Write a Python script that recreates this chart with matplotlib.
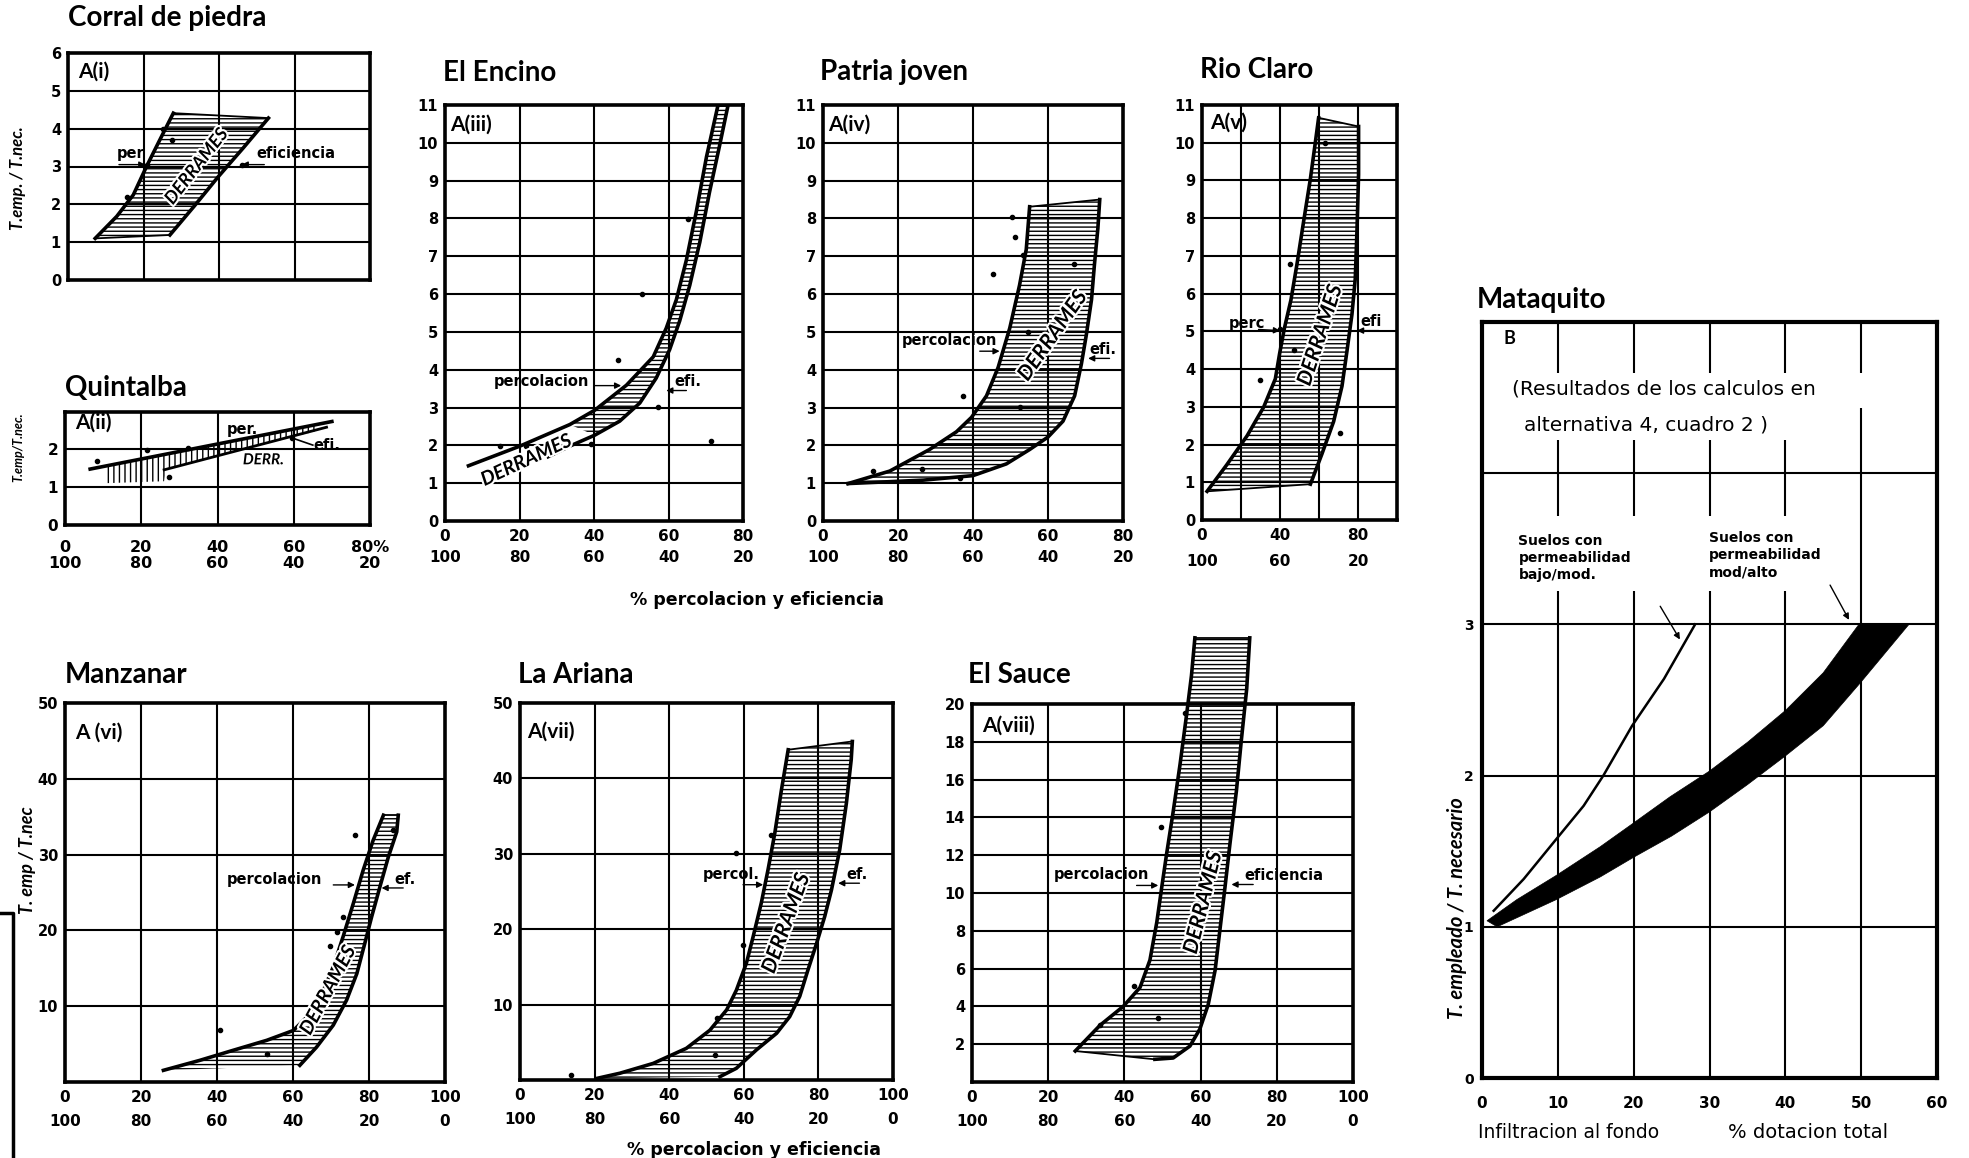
import numpy as np
import matplotlib.pyplot as plt
import matplotlib.patheffects as pe
from matplotlib.lines import Line2D

# figure size in pixels (dpi 100)
W, H = 1969, 1158

plt.rcParams['font.family'] = ['Lato', 'DejaVu Sans']
plt.rcParams['font.weight'] = 'bold'
plt.rcParams['hatch.color'] = 'black'
plt.rcParams['hatch.linewidth'] = 1.0

# ---------------- data ----------------
# A(i) Corral de piedra
cp_perc_x = [7.2, 12.9, 17.3, 20.8, 23.9, 27.9]
cp_perc_y = [1.10, 1.68, 2.25, 3.0, 3.62, 4.41]
cp_efi_x = [27.0, 33.5, 39.8, 46.5, 53.1]
cp_efi_y = [1.19, 1.96, 2.73, 3.5, 4.28]
cp_pts_x = [15.5, 25.2, 27.5, 21.0, 46.0]
cp_pts_y = [2.2, 3.98, 3.7, 3.05, 3.05]

# A(ii) Quintalba
q_per_x = [6.6, 70.0]
q_per_y = [1.47, 2.72]
q_efi_x = [26.0, 68.6]
q_efi_y = [1.45, 2.57]
q_hatch_x = [11, 26, 26.5, 66]
q_hatch_low = [1.1, 1.15, 1.47, 2.47]
q_hatch_up = [1.56, 1.85, 1.86, 2.64]
q_pts_x = [8.3, 21.6, 27.3, 32.3, 59.6]
q_pts_y = [1.69, 1.97, 1.27, 2.02, 2.28]

# A(iii) El Encino
en_perc_x = [6.3, 20.1, 33.5, 40.2, 48.7, 55.9, 59.4, 62.1, 64.8, 67.5, 70.2, 73.3]
en_perc_y = [1.46, 1.98, 2.55, 2.93, 3.59, 4.34, 5.1, 5.85, 6.9, 8.2, 9.63, 11.0]
en_efi_x = [27.7, 33.5, 40.2, 46.9, 52.3, 56.7, 60.3, 63.0, 65.7, 68.4, 71.0, 73.7, 76.0]
en_efi_y = [1.70, 1.98, 2.27, 2.64, 3.12, 3.78, 4.53, 5.29, 6.23, 7.37, 8.69, 9.92, 11.0]
en_pts_x = [14.7, 21.7, 39.3, 46.5, 53.0, 65.2, 57.2, 71.5]
en_pts_y = [1.98, 1.98, 2.03, 4.25, 6.0, 7.98, 3.02, 2.12]

# A(iv) Patria joven
pj_perc_x = [6.7, 17.8, 28.4, 35.6, 39.6, 43.6, 46.7, 49.8, 52.4, 54.2, 55.1]
pj_perc_y = [0.99, 1.32, 1.89, 2.36, 2.74, 3.31, 4.06, 5.1, 6.23, 7.18, 8.31]
pj_efi_x = [6.7, 26.7, 40.0, 48.9, 55.1, 60.0, 64.0, 67.1, 68.9, 70.2, 71.6, 72.4, 73.3, 73.8]
pj_efi_y = [0.99, 1.08, 1.2, 1.51, 1.89, 2.22, 2.64, 3.31, 4.15, 4.91, 5.85, 6.8, 7.74, 8.5]
pj_pts_x = [13.3, 26.5, 37.2, 45.2, 50.5, 51.2, 53.3, 66.8, 54.7, 52.4, 36.6]
pj_pts_y = [1.32, 1.37, 3.31, 6.52, 8.03, 7.51, 7.03, 6.8, 5.0, 3.02, 1.13]

# A(v) Rio Claro
rc_perc_x = [2.6, 12.8, 23.1, 31.6, 37.6, 39.8, 42.2, 45.6, 48.7, 52.1, 55.6, 58.1, 59.8]
rc_perc_y = [0.76, 1.47, 2.23, 2.99, 3.74, 4.41, 5.07, 5.83, 6.78, 7.91, 9.05, 10.0, 10.66]
rc_efi_x = [55.6, 61.5, 67.5, 71.8, 74.4, 76.9, 78.6, 79.5, 80.3, 80.3]
rc_efi_y = [0.95, 1.75, 2.61, 3.55, 4.5, 5.45, 6.4, 7.72, 9.15, 10.43]
rc_pts_x = [45.3, 29.9, 47.0, 40.2, 71.0, 63.2]
rc_pts_y = [6.78, 3.7, 4.5, 5.07, 2.3, 9.98]

# A(vi) Manzanar
mz_perc_x = [25.9, 35.5, 44.3, 53.1, 60.1, 64.5, 68.0, 70.6, 73.2, 75.9, 78.5, 81.1, 83.8]
mz_perc_y = [1.54, 2.86, 4.19, 5.5, 6.8, 9.0, 12.1, 15.2, 19.2, 23.6, 28.0, 31.9, 35.2]
mz_efi_x = [61.8, 66.2, 70.6, 74.1, 76.8, 78.9, 80.7, 82.9, 85.1, 87.3, 87.7]
mz_efi_y = [2.2, 4.6, 7.5, 10.8, 14.3, 18.3, 21.8, 25.8, 29.7, 33.0, 35.2]
mz_pts_x = [40.8, 53.1, 69.7, 73.2, 76.3, 71.5, 86.4]
mz_pts_y = [6.8, 3.7, 18.0, 21.8, 32.6, 19.8, 33.3]

# A(vii) La Ariana
la_perc_x = [20.5, 26.8, 35.7, 44.6, 50.9, 55.4, 58.0, 60.7, 62.5, 64.7, 66.5, 68.3, 70.1, 71.9]
la_perc_y = [0.2, 0.9, 2.2, 4.2, 6.6, 9.3, 11.9, 15.5, 19.0, 23.5, 27.9, 32.7, 38.5, 43.8]
la_efi_x = [53.6, 58.0, 63.4, 68.8, 72.3, 75.0, 77.2, 79.5, 81.7, 83.5, 85.7, 87.5, 88.8, 89.1]
la_efi_y = [0.44, 1.55, 4.0, 6.2, 8.4, 11.1, 14.6, 18.1, 21.7, 25.2, 30.5, 36.7, 42.5, 44.9]
la_pts_x = [13.8, 58.0, 67.4, 59.8, 52.7, 52.2]
la_pts_y = [0.66, 30.1, 32.5, 17.9, 8.2, 3.3]

# A(viii) El Sauce
es_perc_x = [27.1, 33.6, 39.7, 44.1, 46.7, 48.5, 49.8, 51.1, 52.8, 54.6, 56.3, 57.6, 58.5]
es_perc_y = [1.64, 3.0, 4.0, 5.0, 6.45, 8.45, 10.3, 12.1, 14.3, 16.8, 19.4, 21.5, 23.5]
es_efi_x = [48.0, 52.8, 57.2, 59.8, 62.0, 63.8, 65.1, 66.4, 67.7, 69.4, 70.7, 72.1, 72.9]
es_efi_y = [1.2, 1.27, 1.9, 2.8, 4.1, 5.9, 8.1, 10.3, 12.6, 15.4, 18.1, 20.8, 23.5]
es_pts_x = [55.9, 49.5, 42.5, 33.6, 48.9]
es_pts_y = [19.5, 13.5, 5.1, 3.0, 3.4]

# B Mataquito
mt_low_x = [1.54, 5.5, 9.8, 13.4, 16.0, 19.8, 24.0, 28.1]
mt_low_y = [1.106, 1.316, 1.58, 1.8, 2.0, 2.33, 2.64, 3.0]
mt_up_x = [0.66, 4.6, 9.8, 15.6, 19.8, 24.8, 30.0, 35.0, 40.0, 45.0, 49.7]
mt_up_y = [1.04, 1.18, 1.34, 1.53, 1.68, 1.86, 2.03, 2.22, 2.43, 2.68, 3.0]
mt_dn_x = [2.0, 9.8, 15.6, 20.0, 25.0, 30.0, 35.0, 40.0, 45.0, 50.0, 56.3]
mt_dn_y = [1.0, 1.18, 1.33, 1.46, 1.6, 1.76, 1.94, 2.13, 2.33, 2.62, 3.0]

# tick labels
pct_top = [0, 20, 40, 60, 80]
pct_bot = [100, 80, 60, 40, 20]
pct_top_full = [0, 20, 40, 60, 80, 100]
pct_bot_full = [100, 80, 60, 40, 20, 0]

NUMFONT = ['DejaVu Sans']
SMALLFONT = ['DejaVu Sans']

# ---------------- helpers ----------------
fig = plt.figure(figsize=(W / 100, H / 100), dpi=100)


def add_ax(left, right, top, bottom):
    # axes box given in figure pixels
    return fig.add_axes([left / W, 1 - bottom / H, (right - left) / W, (bottom - top) / H])


def ftext(x, y, s, **kw):
    kw.setdefault('va', 'center')
    kw.setdefault('ha', 'left')
    fig.text(x / W, 1 - y / H, s, **kw)


def frame(ax, xlim, ylim, xgrid, ygrid, yticks, ylabels, xt=None, xl=None,
          fs=11, lsp=1.6, xpad=6):
    ax.set_xlim(xlim)
    ax.set_ylim(ylim)
    for v in xgrid:
        ax.axvline(v, color='k', lw=1.5, zorder=1)
    for v in ygrid:
        ax.axhline(v, color='k', lw=1.5, zorder=1)
    ax.set_yticks(yticks, ylabels, fontsize=fs - 0.5, fontweight='bold', fontfamily=NUMFONT)
    if xt is None:
        ax.set_xticks([])
    else:
        ax.set_xticks(xt, xl, fontsize=fs, fontweight='bold', linespacing=lsp, fontfamily=NUMFONT)
    ax.tick_params(length=0)
    ax.tick_params(axis='x', pad=xpad)
    ax.tick_params(axis='y', pad=5)
    for s in ax.spines.values():
        s.set_linewidth(2.6)
        s.set_zorder(4)


def band(ax, xl, yl, xr, yr, hatch='----', ymin_l=-1, ymin_r=-1, clip=True,
         cap_bot=False, cap_top=False):
    xl, yl, xr, yr = map(np.asarray, (xl, yl, xr, yr))
    ml = yl >= ymin_l
    mr = yr >= ymin_r
    ax.fill(np.r_[xl[ml], xr[mr][::-1]], np.r_[yl[ml], yr[mr][::-1]],
            facecolor='none', edgecolor='k', hatch=hatch, lw=0, zorder=2, clip_on=clip)
    ax.plot(xl, yl, color='k', lw=2.6, zorder=3, clip_on=clip)
    ax.plot(xr, yr, color='k', lw=2.6, zorder=3, clip_on=clip)
    if cap_bot:
        ax.plot([xl[0], xr[0]], [yl[0], yr[0]], color='k', lw=1.3, zorder=3, clip_on=clip)
    if cap_top:
        ax.plot([xl[-1], xr[-1]], [yl[-1], yr[-1]], color='k', lw=1.3, zorder=3, clip_on=clip)


def dots(ax, x, y):
    ax.plot(x, y, 'o', color='k', ms=3, ls='none', zorder=5)


def note(ax, s, x, y, fs=10.5):
    ax.text(x, y, s, fontsize=fs, fontweight='bold', ha='left', va='center', zorder=6,
            fontfamily=SMALLFONT)


def arrow(ax, tail, head):
    ax.annotate('', xy=head, xytext=tail, zorder=6,
                arrowprops=dict(arrowstyle='-|>', color='k', lw=1.0, mutation_scale=9,
                                shrinkA=0, shrinkB=0))


def derr(ax, x, y, rot, s='DERRAMES', fs=13):
    ax.text(x, y, s, fontsize=fs, fontweight='bold', style='italic', rotation=rot,
            ha='center', va='center', rotation_mode='anchor', zorder=6,
            path_effects=[pe.withStroke(linewidth=3, foreground='white')])


def two_rows(a, b):
    return [f"{p}\n{q}" for p, q in zip(a, b)]


# ---------------- A(i) ----------------
ax = add_ax(68, 370, 53, 280)
frame(ax, (0, 80), (0, 6), [20, 40, 60], [1, 2, 3, 4, 5], range(7), [str(i) for i in range(7)])
band(ax, cp_perc_x, cp_perc_y, cp_efi_x, cp_efi_y, cap_bot=True, cap_top=True)
dots(ax, cp_pts_x, cp_pts_y)
note(ax, 'per', 12.9, 3.35)
arrow(ax, (13.5, 3.05), (20.5, 3.05))
note(ax, 'eficiencia', 50, 3.35)
arrow(ax, (52, 3.05), (46, 3.05))
derr(ax, 34, 3.0, 52, fs=13)

# ---------------- A(ii) ----------------
ax = add_ax(65, 370, 412, 525)
frame(ax, (0, 80), (0, 2.97), [20, 40, 60], [1, 2], [0, 1, 2], ['0', '1', '2'],
      xt=pct_top, xl=['0\n100', '20\n80', '40\n60', '60\n40', '80%\n20'], fs=11.5, lsp=1.1, xpad=11)
ax.fill_between(q_hatch_x, q_hatch_low, q_hatch_up, facecolor='none', edgecolor='k',
                hatch='|||', lw=0, zorder=2)
ax.plot(q_per_x, q_per_y, color='k', lw=2.6, zorder=3)
ax.plot(q_efi_x, q_efi_y, color='k', lw=2.0, zorder=3)
dots(ax, q_pts_x, q_pts_y)
note(ax, 'per.', 42.4, 2.5)
note(ax, 'efi.', 65.2, 2.1)
ax.plot([59.8, 65], [2.28, 2.1], color='k', lw=1.2, zorder=5)
derr(ax, 52, 1.7, 0, s='DERR.', fs=11)

# ---------------- A(iii) ----------------
y11 = [str(i) for i in range(12)]
ax = add_ax(445, 743, 105, 521)
frame(ax, (0, 80), (0, 11), [20, 40, 60], range(1, 11), range(12), y11,
      xt=pct_top, xl=two_rows(pct_top, pct_bot), lsp=1.45, xpad=6)
band(ax, en_perc_x, en_perc_y, en_efi_x, en_efi_y, ymin_l=2.5, ymin_r=2.2)
dots(ax, en_pts_x, en_pts_y)
note(ax, 'percolacion', 13, 3.68)
arrow(ax, (40.2, 3.58), (47.3, 3.58))
note(ax, 'efi.', 61.7, 3.68)
arrow(ax, (64.8, 3.45), (59.4, 3.45))
derr(ax, 21.9, 1.6, 25, fs=14)

# ---------------- A(iv) ----------------
ax = add_ax(823, 1123, 105, 521)
frame(ax, (0, 80), (0, 11), [20, 40, 60], range(1, 11), range(12), y11,
      xt=pct_top, xl=two_rows(pct_top, pct_bot), lsp=1.45, xpad=6)
band(ax, pj_perc_x, pj_perc_y, pj_efi_x, pj_efi_y, cap_top=True)
dots(ax, pj_pts_x, pj_pts_y)
note(ax, 'percolacion', 20.9, 4.77)
arrow(ax, (41.8, 4.49), (47.1, 4.49))
note(ax, 'efi.', 71.1, 4.53)
arrow(ax, (76.4, 4.3), (70.7, 4.3))
derr(ax, 61.3, 4.9, 55, fs=15)

# ---------------- A(v) ----------------
ax = add_ax(1202, 1397, 105, 520)
frame(ax, (0, 100), (0, 11), [20, 40, 60, 80], range(1, 11), range(12), y11,
      xt=[0, 40, 80], xl=two_rows([0, 40, 80], [100, 60, 20]), lsp=1.9, xpad=6)
band(ax, rc_perc_x, rc_perc_y, rc_efi_x, rc_efi_y, cap_bot=True, cap_top=True)
dots(ax, rc_pts_x, rc_pts_y)
note(ax, 'perc', 13.7, 5.21)
arrow(ax, (29, 5.05), (40, 5.02))
note(ax, 'efi', 81.2, 5.26)
arrow(ax, (90.6, 5.02), (79.5, 5.02))
derr(ax, 60.7, 4.9, 72, fs=15)

# ---------------- A(vi) ----------------
ax = add_ax(65, 445, 703, 1082)
frame(ax, (0, 100), (0, 50), [20, 40, 60, 80], [10, 20, 30, 40], [10, 20, 30, 40, 50],
      ['10', '20', '30', '40', '50'], xt=pct_top_full, xl=two_rows(pct_top_full, pct_bot_full),
      lsp=1.75, xpad=6)
band(ax, mz_perc_x, mz_perc_y, mz_efi_x, mz_efi_y, cap_top=True)
dots(ax, mz_pts_x, mz_pts_y)
note(ax, 'percolacion', 42.5, 26.7)
arrow(ax, (70.6, 26), (76.3, 26))
note(ax, 'ef.', 86.8, 26.7)
arrow(ax, (89, 25.6), (83.3, 25.6))
derr(ax, 69.3, 12.1, 62, fs=14)

# ---------------- A(vii) ----------------
ax = add_ax(520, 893, 703, 1080)
frame(ax, (0, 100), (0, 50), [20, 40, 60, 80], [10, 20, 30, 40], [10, 20, 30, 40, 50],
      ['10', '20', '30', '40', '50'], xt=pct_top_full, xl=two_rows(pct_top_full, pct_bot_full),
      lsp=1.75, xpad=6)
band(ax, la_perc_x, la_perc_y, la_efi_x, la_efi_y, cap_top=True)
dots(ax, la_pts_x, la_pts_y)
note(ax, 'percol.', 49.1, 27.2)
arrow(ax, (59.8, 25.9), (65.2, 25.9))
note(ax, 'ef.', 87.5, 27.2)
arrow(ax, (91, 26.1), (85.3, 26.1))
derr(ax, 71.4, 20.8, 70, fs=15)

# ---------------- A(viii) ----------------
ax = add_ax(972, 1353, 704, 1082)
frame(ax, (0, 100), (0, 20), [20, 40, 60, 80], range(2, 20, 2), range(2, 21, 2),
      [str(i) for i in range(2, 21, 2)], xt=pct_top_full, xl=two_rows(pct_top_full, pct_bot_full),
      lsp=1.75, xpad=6)
band(ax, es_perc_x, es_perc_y, es_efi_x, es_efi_y, clip=False, cap_bot=True, cap_top=True)
dots(ax, es_pts_x, es_pts_y)
note(ax, 'percolacion', 21.4, 11.0)
arrow(ax, (43.2, 10.4), (48.9, 10.4))
note(ax, 'eficiencia', 71.6, 10.9)
arrow(ax, (73.8, 10.45), (68.1, 10.45))
derr(ax, 60.7, 9.5, 76, fs=15)

# ---------------- B Mataquito ----------------
ax = add_ax(1482, 1937, 322, 1078)
ax.set_xlim(0, 60)
ax.set_ylim(0, 5)
for v in [1, 2, 3, 4]:
    ax.axhline(v, color='k', lw=1.5, zorder=1)
for v in [10, 20, 30, 40]:
    ax.vlines([v, v, v], [0, 3.72, 4.66], [3.22, 4.22, 5], color='k', lw=1.5, zorder=1)
ax.vlines([50, 50], [0, 4.66], [4.43, 5], color='k', lw=1.5, zorder=1)
ax.set_xticks(range(0, 61, 10), [str(i) for i in range(0, 61, 10)], fontsize=11,
              fontfamily=NUMFONT)
ax.set_yticks([0, 1, 2, 3], ['0', '1', '2', '3'], fontsize=10, fontfamily=NUMFONT)
ax.tick_params(length=0)
ax.tick_params(axis='x', pad=13)
ax.tick_params(axis='y', pad=6)
for s in ax.spines.values():
    s.set_linewidth(3)
ax.plot(mt_low_x, mt_low_y, color='k', lw=1.8, zorder=3)
ax.fill(np.r_[mt_up_x, mt_dn_x[::-1]], np.r_[mt_up_y, mt_dn_y[::-1]], color='k', lw=0.5, zorder=3)
arrow(ax, (23.5, 3.12), (26.1, 2.9))
arrow(ax, (45.9, 3.26), (48.4, 3.03))
ax.text(2.9, 4.89, 'B', fontsize=13, va='center')
ax.text(3.96, 4.56, '(Resultados de los calculos en', fontsize=14.5, va='center',
        fontfamily=SMALLFONT, fontweight='normal')
ax.text(5.5, 4.32, 'alternativa 4, cuadro 2 )', fontsize=14.5, va='center',
        fontfamily=SMALLFONT, fontweight='normal')
ax.text(4.8, 3.6, 'Suelos con\npermeabilidad\nbajo/mod.', fontsize=10, va='top',
        fontfamily=SMALLFONT, linespacing=1.3)
ax.text(29.9, 3.62, 'Suelos con\npermeabilidad\nmod/alto', fontsize=10, va='top',
        fontfamily=SMALLFONT, linespacing=1.3)

# ---------------- titles and labels ----------------
for x, y, s in [(68, 18, 'Corral de piedra'), (65, 388, 'Quintalba'), (443, 73, 'El Encino'),
                (820, 72, 'Patria joven'), (1200, 70, 'Rio Claro'), (1477, 300, 'Mataquito'),
                (65, 675, 'Manzanar'), (518, 675, 'La Ariana'), (968, 675, 'El Sauce')]:
    ftext(x, y, s, fontsize=20)

for x, y, s in [(78, 72, 'A(i)'), (75, 423, 'A(ii)'), (450, 125, 'A(iii)'), (828, 125, 'A(iv)'),
                (1210, 123, 'A(v)'), (75, 733, 'A (vi)'), (527, 732, 'A(vii)'), (982, 726, 'A(viii)')]:
    ftext(x, y, s, fontsize=15)

ftext(18, 178, 'T.emp. / T.nec.', rotation=90, ha='center', fontsize=12, style='italic')
ftext(18, 447, 'T.emp/T.nec.', rotation=90, ha='center', fontsize=9, style='italic')
ftext(27, 860, 'T. emp / T.nec', rotation=90, ha='center', fontsize=13, style='italic')
ftext(1457, 908, 'T. empleado / T. necesario', rotation=90, ha='center', fontsize=14.5,
      style='italic')

ftext(757, 600, '% percolacion y eficiencia', ha='center', fontsize=12.5, fontfamily=SMALLFONT)
ftext(754, 1150, '% percolacion y eficiencia', ha='center', fontsize=12.5, fontfamily=SMALLFONT)
ftext(1478, 1133, 'Infiltracion al fondo', fontsize=13.5, fontweight='normal', fontfamily=SMALLFONT)
ftext(1728, 1133, '% dotacion total', fontsize=14, fontweight='normal', fontfamily=SMALLFONT)

# stray bracket line at the left margin
fig.add_artist(Line2D([0, 13 / W, 13 / W], [1 - 913 / H, 1 - 913 / H, 0], color='k', lw=2.5))

fig.savefig('out.png', dpi=100, facecolor='white')
